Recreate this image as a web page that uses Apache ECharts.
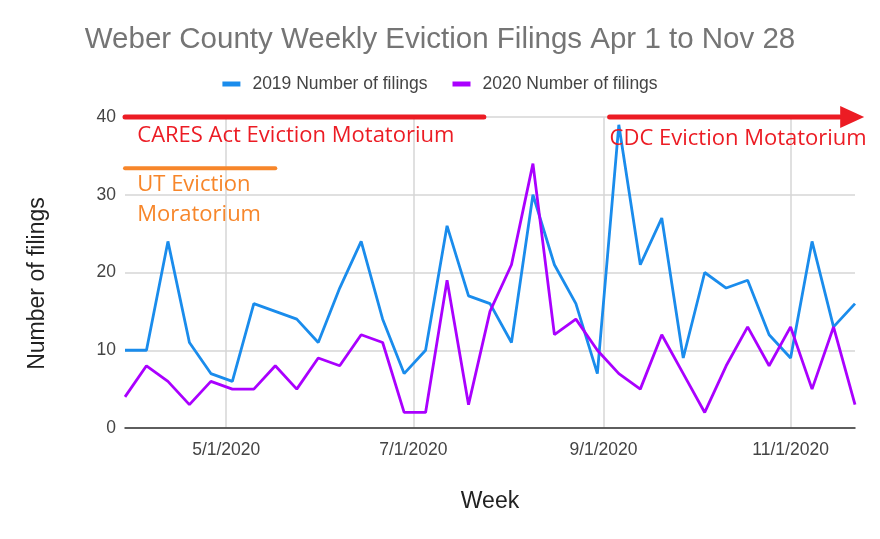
<!DOCTYPE html>
<html>
<head>
<meta charset="utf-8">
<script src="https://cdn.jsdelivr.net/npm/echarts@6/dist/echarts.min.js"></script>
<style>
html, body { margin: 0; padding: 0; background: #fff; }
#chart { width: 880px; height: 539px; }
</style>
</head>
<body>
<div id="chart"></div>
<script>
// week dates (week start)
var weeks = [
  '2020-03-29', '2020-04-05', '2020-04-12', '2020-04-19', '2020-04-26',
  '2020-05-03', '2020-05-10', '2020-05-17', '2020-05-24', '2020-05-31',
  '2020-06-07', '2020-06-14', '2020-06-21', '2020-06-28', '2020-07-05',
  '2020-07-12', '2020-07-19', '2020-07-26', '2020-08-02', '2020-08-09',
  '2020-08-16', '2020-08-23', '2020-08-30', '2020-09-06', '2020-09-13',
  '2020-09-20', '2020-09-27', '2020-10-04', '2020-10-11', '2020-10-18',
  '2020-10-25', '2020-11-01', '2020-11-08', '2020-11-15', '2020-11-22'
];
var filings2019 = [10, 10, 24, 11, 7, 6, 16, 15, 14, 11, 18, 24, 14, 7, 10, 26, 17, 16, 11, 30,
  21, 16, 7, 39, 21, 27, 9, 20, 18, 19, 12, 9, 24, 13, 16];
var filings2020 = [4, 8, 6, 3, 6, 5, 5, 8, 5, 9, 8, 12, 11, 2, 2, 19, 3, 15, 21, 34,
  12, 14, 10, 7, 5, 12, 7, 2, 8, 13, 8, 13, 5, 13, 3];
var tickDates = ['2020-05-01', '2020-07-01', '2020-09-01', '2020-11-01'];

// 'yyyy-mm-dd' -> local timestamp
function ts(s) {
  var p = s.split('-');
  return new Date(+p[0], +p[1] - 1, +p[2]).getTime();
}

var chart = echarts.init(document.getElementById('chart'));

function pairs(vals) {
  var out = [];
  for (var i = 0; i < vals.length; i++) {
    out.push([ts(weeks[i]), vals[i]]);
  }
  return out;
}

var font = "'Liberation Sans', Arial, sans-serif";
var ticks = tickDates.map(ts);

chart.setOption({
  animation: false,
  title: {
    text: 'Weber County Weekly Eviction Filings Apr 1 to Nov 28',
    left: 'center',
    top: 20,
    textStyle: { color: '#757575', fontSize: 29.5, fontWeight: 'normal', fontFamily: font }
  },
  legend: {
    top: 70,
    left: 'center',
    icon: 'rect',
    itemWidth: 18,
    itemHeight: 5,
    itemGap: 25,
    textStyle: { color: '#444', fontSize: 17.5, fontFamily: font, padding: [0, 0, 0, 7] }
  },
  grid: { left: 125, right: 25, top: 117, bottom: 111 },
  xAxis: {
    type: 'value',
    min: ts(weeks[0]),
    max: ts(weeks[weeks.length - 1]),
    name: 'Week',
    nameLocation: 'middle',
    nameGap: 62,
    nameTextStyle: { color: '#222', fontSize: 23, fontFamily: font },
    axisLine: { lineStyle: { color: '#333', width: 1.5 } },
    axisTick: { show: false, customValues: ticks },
    axisLabel: {
      customValues: ticks,
      color: '#444',
      fontSize: 17.5,
      fontFamily: font,
      margin: 13,
      formatter: function (v) {
        var d = new Date(v);
        return (d.getMonth() + 1) + '/' + d.getDate() + '/' + d.getFullYear();
      }
    },
    splitLine: { show: true, lineStyle: { color: '#d6d6d6', width: 1.5 } }
  },
  yAxis: {
    type: 'value',
    min: 0,
    max: 40,
    interval: 10,
    name: 'Number of filings',
    nameLocation: 'middle',
    nameGap: 76,
    nameTextStyle: { color: '#222', fontSize: 23, fontFamily: font, padding: [0, 22, 0, 0] },
    axisLine: { show: false },
    axisTick: { show: false },
    axisLabel: { color: '#444', fontSize: 17.5, fontFamily: font, margin: 9 },
    splitLine: { lineStyle: { color: '#d6d6d6', width: 1.5 } }
  },
  series: [{
    name: '2019 Number of filings',
    type: 'line',
    showSymbol: false,
    color: '#1a8cec',
    lineStyle: { width: 2.8 },
    data: pairs(filings2019)
  }, {
    name: '2020 Number of filings',
    type: 'line',
    showSymbol: false,
    color: '#aa00ff',
    lineStyle: { width: 2.8 },
    data: pairs(filings2020)
  }]
});

// annotations placed through the chart's own scales
function px(date, v) {
  return chart.convertToPixel({ gridIndex: 0 }, [ts(date), v]);
}
var red = '#ec1c24';
var orange = '#f7862a';
var annFont = "22px 'Open Sans', 'Noto Sans', sans-serif";
var a1 = px('2020-03-29', 40), a2 = px('2020-07-24', 40);
var c1 = px('2020-09-03', 40), c2 = px('2020-11-17', 40), tip = px('2020-11-25', 40);
var o1 = px('2020-03-29', 33.4), o2 = px('2020-05-17', 33.4);
var t1 = px('2020-04-02', 37.6), t2 = px('2020-09-03', 37.2);
var t3 = px('2020-04-02', 31.3), t4 = px('2020-04-02', 27.4);

chart.setOption({
  graphic: [
    { type: 'line', shape: { x1: a1[0], y1: a1[1], x2: a2[0], y2: a2[1] },
      style: { stroke: red, lineWidth: 5, lineCap: 'round' }, z: 100 },
    { type: 'line', shape: { x1: c1[0], y1: c1[1], x2: c2[0], y2: c2[1] },
      style: { stroke: red, lineWidth: 5, lineCap: 'round' }, z: 100 },
    { type: 'polygon', shape: { points: [[tip[0] - 24, tip[1] - 11], [tip[0], tip[1]], [tip[0] - 24, tip[1] + 11]] },
      style: { fill: red }, z: 100 },
    { type: 'line', shape: { x1: o1[0], y1: o1[1], x2: o2[0], y2: o2[1] },
      style: { stroke: orange, lineWidth: 4, lineCap: 'round' }, z: 100 },
    { type: 'text', x: t1[0], y: t1[1],
      style: { text: 'CARES Act Eviction Motatorium', fill: red, font: annFont, verticalAlign: 'middle' }, z: 100 },
    { type: 'text', x: t2[0], y: t2[1],
      style: { text: 'CDC Eviction Motatorium', fill: red, font: annFont, verticalAlign: 'middle' }, z: 100 },
    { type: 'text', x: t3[0], y: t3[1],
      style: { text: 'UT Eviction', fill: orange, font: annFont, verticalAlign: 'middle' }, z: 100 },
    { type: 'text', x: t4[0], y: t4[1],
      style: { text: 'Moratorium', fill: orange, font: annFont, verticalAlign: 'middle' }, z: 100 }
  ]
});
</script>
</body>
</html>
